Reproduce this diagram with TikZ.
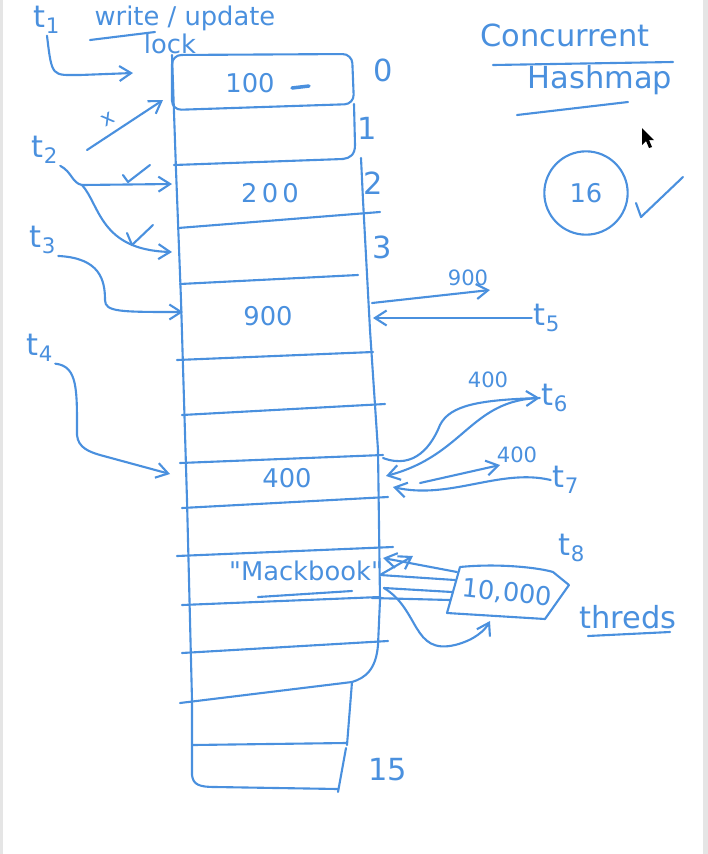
\documentclass[tikz,border=0pt]{standalone}
\usepackage{fontspec}
\setmainfont{DejaVu Sans}[Ligatures=TeXOff]
\usetikzlibrary{arrows.meta,positioning,calc}
\definecolor{ink}{RGB}{74,144,222}

\begin{document}
\begin{tikzpicture}[x=0.03cm, y=-0.03cm,
    color=ink, line width=1.8pt, line cap=round, line join=round,
    arr/.style={-{Straight Barb[length=3.5mm,width=4.5mm]}},
    thr/.style={font=\fontsize{26}{28}\selectfont, inner sep=1pt},
    idx/.style={font=\fontsize{26}{28}\selectfont, inner sep=1pt},
    val/.style={font=\fontsize{22}{24}\selectfont, inner sep=1pt},
    note/.style={font=\fontsize{18}{20}\selectfont, inner sep=1pt},
    hdr/.style={font=\fontsize{26}{28}\selectfont, inner sep=1pt},
  ]
  \useasboundingbox (0,0) rectangle (708,854);
  \fill[gray!20] (0,0) rectangle (3,854);
  \fill[gray!20] (703,0) rectangle (708,854);

  % column of buckets
  \draw[rounded corners=8pt] (172,110) -- (172,55) -- (352,54) -- (354,104) -- cycle;
  \draw (354,104) -- (355,145) .. controls (355,155) and (350,158) .. (343,159);
  \draw (172,55) -- (176,170) -- (181,300) -- (187,500) -- (192,700) -- (192,775)
        .. controls (193,785) and (200,787) .. (215,787) -- (338,789);
  \draw (361,158) -- (363,200) -- (370,330) -- (378,450) -- (380,600) -- (378,645)
        .. controls (376,670) and (365,678) .. (352,682) -- (347,745);
  \draw (346,748) -- (338,792);
  \foreach \xa/\ya/\xb/\yb in {174/165/343/159, 178/228/380/212, 180/284/358/275,
      177/360/373/352, 182/415/385/404, 180/463/383/455, 182/508/388/497,
      177/556/393/547, 182/605/380/597, 182/653/388/641, 180/703/352/682,
      193/745/346/743}
    \draw (\xa,\ya) -- (\xb,\yb);

  \node[idx] (i0) at (383,70) {0};
  \node[idx] (i1) at (367,128) {1};
  \node[idx] (i2) at (373,183) {2};
  \node[idx] (i3) at (382,247) {3};
  \node[idx] (i15) at (388,770) {15};

  \node[val] (v0) at (250,83) {100};
  \draw[line width=3pt] (292,88) -- (309,86);
  \node[val] (v2) at (270,193) {2\,0\,0};
  \node[val] (v4) at (268,316) {900};
  \node[val] (v7) at (287,478) {400};
  \node[val] (v9) at (306,571) {"Mackbook"};
  \draw (258,597) -- (352,591);

  % title
  \node[hdr] (ttl) at (565,35) {Concurrent};
  \draw (493,65) -- (673,62);
  \node[hdr] (ttl2) at (600,80) {Hashmap};
  \draw (517,115) -- (628,102);
  \node[draw, circle, minimum size=2.5cm, inner sep=0pt, val] (cnt) at (586,193) {16};
  \draw (636,203) -- (641,217) -- (683,177);
  \fill[black] (642,128) -- (642,145) -- (646,141) -- (649,148) -- (652,147)
        -- (649,140) -- (654,140) -- cycle;

  % threads on the left
  \node[thr] (t1) at (47,20) {t\textsubscript{1}};
  \node[val] (wr) at (185,18) {write / update};
  \draw (90,40) -- (155,32);
  \node[val] (lk) at (170,44) {lock};
  \node[thr] (t2) at (45,150) {t\textsubscript{2}};
  \node[thr] (t3) at (43,240) {t\textsubscript{3}};
  \node[thr] (t4) at (40,348) {t\textsubscript{4}};

  \coordinate (lkin) at (133,73);
  \coordinate (c0) at (163,100);
  \coordinate (br) at (82,185);
  \coordinate (c2) at (172,184);
  \coordinate (c3) at (172,252);
  \coordinate (c4) at (183,312);
  \coordinate (c7) at (170,474);

  \draw[arr] (t1.south) .. controls (52,78) and (52,75) .. (80,75) -- (lkin);
  \draw[arr] (87,150) -- (c0);
  \node[note, rotate=30] (no) at (108,119) {x};
  \draw (t2.south east) .. controls (72,172) and (72,183) .. (br);
  \draw[arr] (br) -- (c2);
  \draw[arr] (br) .. controls (100,205) and (100,250) .. (c3);
  \draw (123,175) -- (128,182) -- (150,165);
  \draw (127,233) -- (132,245) -- (153,225);
  \draw[arr] (t3.south east) .. controls (100,258) and (105,280) .. (105,300)
        .. controls (105,312) and (120,312) .. (c4);
  \draw[arr] (t4.south east) .. controls (78,366) and (77,390) .. (77,435)
        .. controls (78,448) and (90,452) .. (100,455) -- (c7);

  % threads on the right
  \node[thr] (t5) at (547,318) {t\textsubscript{5}};
  \node[thr] (t6) at (555,398) {t\textsubscript{6}};
  \node[thr] (t7) at (566,480) {t\textsubscript{7}};
  \node[thr] (t8) at (572,548) {t\textsubscript{8}};

  \coordinate (c5r) at (372,303);
  \coordinate (o5) at (490,290);
  \coordinate (c5in) at (373,318);
  \coordinate (c7a) at (383,458);
  \coordinate (c7b) at (386,476);
  \coordinate (r7) at (420,483);
  \coordinate (o7) at (500,465);
  \coordinate (c7d) at (393,487);

  \draw[arr] (c5r) -- (o5);
  \node[note] (n5) at (468,278) {900};
  \draw[arr] (t5.west) -- (c5in);
  \draw[arr] (c7a) .. controls (415,470) and (432,445) .. (440,425)
        .. controls (450,405) and (480,400) .. (t6.west);
  \draw[arr] (t6.west) .. controls (470,400) and (465,455) .. (c7b);
  \node[note] (n6) at (488,380) {400};
  \draw[arr] (r7) -- (o7);
  \draw[arr] (t7.west) .. controls (500,468) and (450,500) .. (c7d);
  \node[note] (n7) at (517,455) {400};

  % 10,000 threads
  \node[val, rotate=-6] (tenk) at (507,593) {10,000};
  \draw (460,567) .. controls (500,563) and (540,568) .. (553,572) -- (569,585)
        -- (545,619) -- (447,613) -- cycle;
  \node[thr] (thd) at (628,617) {threds};
  \draw (588,636) -- (670,632);

  \coordinate (m1) at (383,558);
  \coordinate (m2) at (380,575);
  \coordinate (m3) at (384,588);
  \coordinate (m4) at (372,598);
  \coordinate (mu) at (413,556);
  \coordinate (bxb) at (490,621);
  \draw[arr] (457,572) -- (m1);
  \draw (455,580) -- (m2);
  \draw (452,592) -- (m3);
  \draw (450,600) -- (m4);
  \draw[arr] (m2) -- (mu);
  \draw[arr] (m3) .. controls (420,610) and (412,655) .. (455,645)
        .. controls (475,640) and (485,630) .. (bxb);
\end{tikzpicture}
\end{document}
